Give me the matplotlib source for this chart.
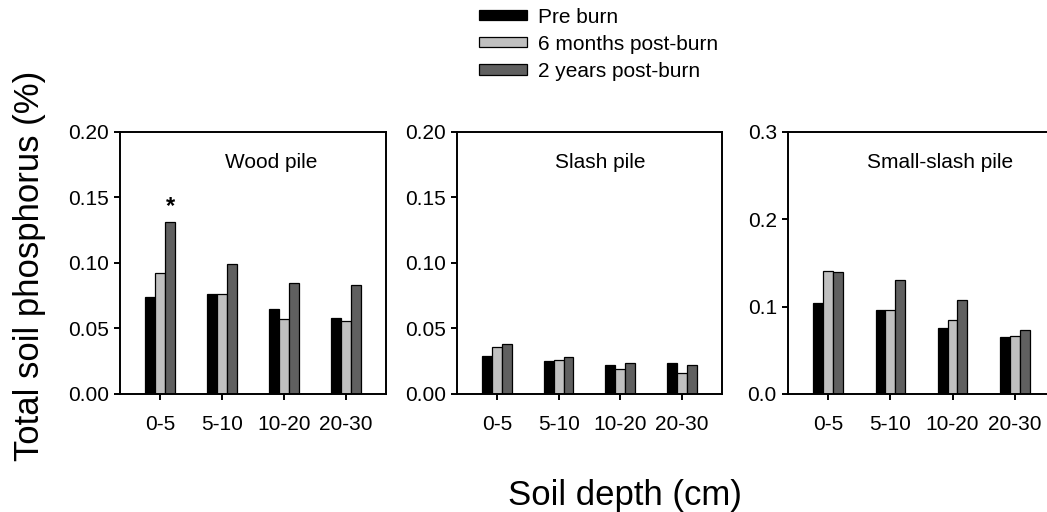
import numpy as np
import matplotlib
matplotlib.use("Agg")
import matplotlib.pyplot as plt

plt.rcParams['font.family'] = ['Liberation Sans', 'DejaVu Sans']

depths = ["0-5", "5-10", "10-20", "20-30"]
series = ["Pre burn", "6 months post-burn", "2 years post-burn"]
colors = ["#000000", "#c0c0c0", "#606060"]

panels = ["Wood pile", "Slash pile", "Small-slash pile"]

wood_pre = [0.074, 0.076, 0.065, 0.058]
wood_6m = [0.092, 0.076, 0.057, 0.056]
wood_2y = [0.131, 0.099, 0.085, 0.083]

slash_pre = [0.029, 0.025, 0.022, 0.024]
slash_6m = [0.036, 0.026, 0.019, 0.016]
slash_2y = [0.038, 0.028, 0.024, 0.022]

small_pre = [0.104, 0.096, 0.075, 0.065]
small_6m = [0.141, 0.096, 0.085, 0.066]
small_2y = [0.140, 0.130, 0.108, 0.073]

panel_data = [
    [wood_pre, wood_6m, wood_2y],
    [slash_pre, slash_6m, slash_2y],
    [small_pre, small_6m, small_2y],
]
y_limits = [0.20, 0.20, 0.30]
y_ticks = [
    [0.00, 0.05, 0.10, 0.15, 0.20],
    [0.00, 0.05, 0.10, 0.15, 0.20],
    [0.0, 0.1, 0.2, 0.3],
]
y_fmt = ["{:.2f}", "{:.2f}", "{:.1f}"]
title_x = [0.57, 0.54, 0.57]

fig = plt.figure(figsize=(10.47, 5.12), dpi=100)

# axes boxes in figure fraction (left, bottom, width, height)
boxes = [
    (0.1146, 0.2305, 0.254, 0.5117),
    (0.4365, 0.2305, 0.253, 0.5117),
    (0.7526, 0.2305, 0.255, 0.5117),
]

x = np.arange(1, len(depths) + 1)
w = 0.16
handles = []
for i, box in enumerate(boxes):
    ax = fig.add_axes(box)
    for j, vals in enumerate(panel_data[i]):
        b = ax.bar(x + (j - 1) * w, vals, width=w, color=colors[j],
                   edgecolor="black", linewidth=0.9, label=series[j])
        if i == 0:
            handles.append(b)
    ax.set_xlim(0.35, 4.65)
    ax.set_ylim(0, y_limits[i])
    ax.set_xticks(x)
    ax.set_xticklabels(depths)
    ax.set_yticks(y_ticks[i])
    ax.set_yticklabels([y_fmt[i].format(t) for t in y_ticks[i]])
    ax.tick_params(direction="out", length=4, width=1.4, labelsize=15, pad=4)
    ax.tick_params(axis="x", pad=11)
    for s in ax.spines.values():
        s.set_linewidth(1.4)
    ax.text(title_x[i], 0.885, panels[i], transform=ax.transAxes,
            ha="center", va="center", fontsize=15)
    if i == 0:
        ax.text(1 + w, wood_2y[0] + 0.003, "*", ha="center", va="bottom",
                fontsize=17, fontweight="bold")

fig.text(0.028, 0.48, "Total soil phosphorus (%)", rotation=90,
         ha="center", va="center", fontsize=25)
fig.text(0.597, 0.0137, "Soil depth (cm)", ha="center", va="baseline",
         fontsize=25)

fig.legend(handles, series, loc="upper left", bbox_to_anchor=(0.4575, 0.985),
           frameon=False, fontsize=15, handlelength=2.3, handleheight=0.38,
           handletextpad=0.55, labelspacing=0.39, borderpad=0, borderaxespad=0)

fig.savefig("out.png", dpi=100)
